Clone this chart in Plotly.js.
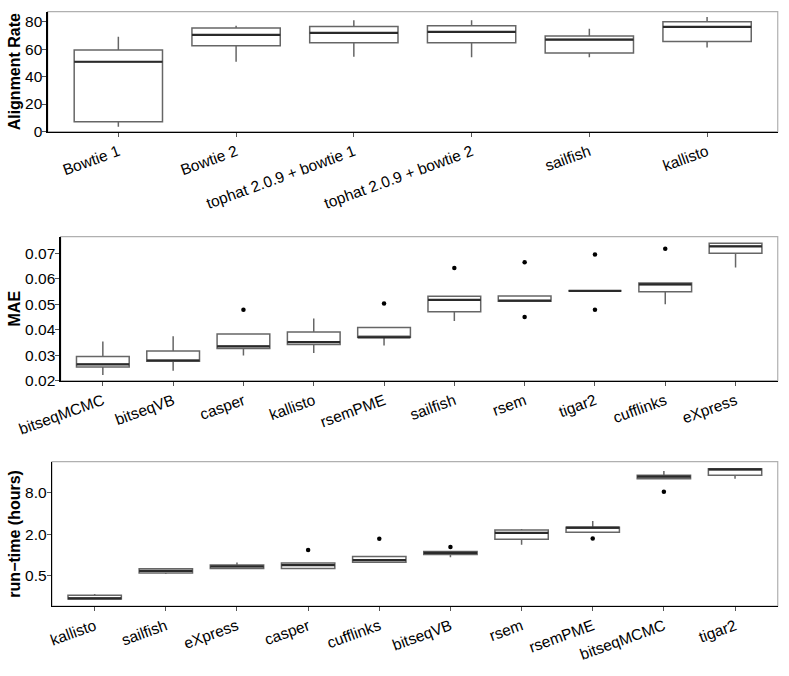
<!DOCTYPE html>
<html><head><meta charset="utf-8">
<script src="https://cdn.plot.ly/plotly-3.0.1.min.js"></script>
<style>body{margin:0;padding:0;background:#fff}#chart{width:789px;height:676px}</style>
</head><body><div id="chart"></div>
<script>
// Panel 1: alignment rate
const alignCats = ["Bowtie 1","Bowtie 2","tophat 2.0.9 + bowtie 1","tophat 2.0.9 + bowtie 2","sailfish","kallisto"];
const alignLo  = [3.5, 50.8, 54.4, 54.0, 54.0, 61.2];
const alignQ1  = [7.1, 62.4, 64.6, 64.6, 57.1, 65.6];
const alignMed = [50.8, 70.4, 71.9, 72.6, 67.0, 76.2];
const alignQ3  = [59.3, 75.5, 76.5, 77.0, 69.5, 79.9];
const alignHi  = [69.0, 77.0, 81.0, 81.0, 74.8, 83.5];

// Panel 2: MAE
const maeCats = ["bitseqMCMC","bitseqVB","casper","kallisto","rsemPME","sailfish","rsem","tigar2","cufflinks","eXpress"];
const maeLo  = [0.0222, 0.0239, 0.0299, 0.0309, 0.0338, 0.0434, 0.0512, 0.0553, 0.0500, 0.0645];
const maeQ1  = [0.0254, 0.0276, 0.0326, 0.0342, 0.0370, 0.0471, 0.0512, 0.0553, 0.0549, 0.0701];
const maeMed = [0.0264, 0.0279, 0.0335, 0.0351, 0.0370, 0.0517, 0.0514, 0.0553, 0.0578, 0.0728];
const maeQ3  = [0.0295, 0.0316, 0.0383, 0.0391, 0.0409, 0.0532, 0.0533, 0.0553, 0.0584, 0.0740];
const maeHi  = [0.0354, 0.0374, 0.0383, 0.0444, 0.0409, 0.0532, 0.0533, 0.0553, 0.0584, 0.0740];
const maeOutCat = ["casper","rsemPME","sailfish","rsem","rsem","tigar2","tigar2","cufflinks"];
const maeOutVal = [0.0479, 0.0503, 0.0643, 0.0665, 0.0450, 0.0696, 0.0479, 0.0718];

// Panel 3: run-time (hours)
const rtCats = ["kallisto","sailfish","eXpress","casper","cufflinks","bitseqVB","rsem","rsemPME","bitseqMCMC","tigar2"];
const rtLo  = [0.227, 0.524, 0.632, 0.632, 0.782, 0.924, 1.40, 2.13, 12.8, 12.8];
const rtQ1  = [0.227, 0.542, 0.632, 0.632, 0.782, 1.01, 1.69, 2.13, 12.8, 14.3];
const rtMed = [0.232, 0.585, 0.676, 0.708, 0.836, 1.068, 2.08, 2.49, 13.7, 17.5];
const rtQ3  = [0.257, 0.625, 0.708, 0.757, 0.944, 1.114, 2.30, 2.52, 14.3, 17.9];
const rtHi  = [0.268, 0.640, 0.773, 0.757, 0.944, 1.114, 2.38, 3.11, 16.6, 17.9];
const rtOutCat = ["casper","cufflinks","bitseqVB","rsemPME","bitseqMCMC"];
const rtOutVal = [1.17, 1.71, 1.30, 1.72, 8.28];

const FONT = "Liberation Sans, Arial, sans-serif";
const BOXLINE = "#666666";
const MEDLINE = "#2a2a2a";

function boxTraces(cats, lo, q1, med, q3, hi, xa, ya) {
  return [
    {type:"box", x:cats, lowerfence:lo, q1:q1, median:med, q3:q3, upperfence:hi,
     xaxis:xa, yaxis:ya, width:0.75, whiskerwidth:0, fillcolor:"#ffffff",
     line:{color:BOXLINE, width:1.5}, boxpoints:false, showlegend:false, hoverinfo:"skip"},
    {type:"box", x:cats, lowerfence:med, q1:med, median:med, q3:med, upperfence:med,
     xaxis:xa, yaxis:ya, width:0.75, whiskerwidth:0, fillcolor:"rgba(0,0,0,0)",
     line:{color:MEDLINE, width:2.2}, boxpoints:false, showlegend:false, hoverinfo:"skip"}
  ];
}
function outTrace(cats, vals, xa, ya) {
  return {type:"scatter", mode:"markers", x:cats, y:vals, xaxis:xa, yaxis:ya,
    marker:{color:"#000000", size:4.5}, showlegend:false, hoverinfo:"skip"};
}

const data = [
  ...boxTraces(alignCats, alignLo, alignQ1, alignMed, alignQ3, alignHi, "x", "y"),
  ...boxTraces(maeCats, maeLo, maeQ1, maeMed, maeQ3, maeHi, "x2", "y2"),
  outTrace(maeOutCat, maeOutVal, "x2", "y2"),
  ...boxTraces(rtCats, rtLo, rtQ1, rtMed, rtQ3, rtHi, "x3", "y3"),
  outTrace(rtOutCat, rtOutVal, "x3", "y3")
];

const W = 789, H = 676, ML = 45;
function xd(l, r) { return [(l - ML) / (W - ML), (r - ML) / (W - ML)]; }
function yd(top, bot) { return [(H - bot) / H, (H - top) / H]; }

const tickFont = {family:FONT, size:15.5, color:"#000"};
const titleFont = {family:FONT, size:16, color:"#000", weight:"bold"};

function xAxis(cats, dom, anchor) {
  return {domain:dom, anchor:anchor, type:"category", categoryorder:"array", categoryarray:cats,
    range:[-0.6, cats.length - 0.4], showline:true, linecolor:"#000", linewidth:1.3,
    ticks:"outside", ticklen:4, tickcolor:"#555", tickwidth:1, tickangle:-20,
    tickfont:tickFont, showgrid:false, zeroline:false, automargin:false, fixedrange:true};
}
function yAxis(dom, anchor, extra) {
  return Object.assign({domain:dom, anchor:anchor, showline:true, linecolor:"#000", linewidth:1.3,
    ticks:"outside", ticklen:4, tickcolor:"#555", tickwidth:1, tickfont:tickFont,
    ticklabelstandoff:-3,
    showgrid:false, zeroline:false, automargin:"left", fixedrange:true}, extra);
}

const layout = {
  width:W, height:H, margin:{l:ML, r:0, t:0, b:0},
  paper_bgcolor:"#fff", plot_bgcolor:"#fff", showlegend:false, boxmode:"overlay",
  font:{family:FONT, color:"#000"},
  xaxis: xAxis(alignCats, xd(45.7, 777.7), "y"),
  yaxis: yAxis(yd(11.7, 131.7), "x", {range:[-0.2, 87.3], tickvals:[0,20,40,60,80],
    title:{text:"Alignment Rate", font:titleFont, standoff:0}}),
  xaxis2: xAxis(maeCats, xd(58.7, 777.7), "y2"),
  yaxis2: yAxis(yd(236.7, 380.7), "x2", {range:[0.01997, 0.07657], tickvals:[0.02,0.03,0.04,0.05,0.06,0.07],
    tickformat:".2f", title:{text:"MAE", font:titleFont, standoff:0}}),
  xaxis3: xAxis(rtCats, xd(50, 777.7), "y3"),
  yaxis3: yAxis(yd(461.7, 606), "x3", {type:"log", range:[Math.log10(0.18), Math.log10(22.6)],
    tickvals:[0.5,2,8], ticktext:["0.5","2.0","8.0"],
    title:{text:"run\u2212time (hours)", font:titleFont, standoff:0}}),
  shapes: [["x","y"],["x2","y2"],["x3","y3"]].map(([xa,ya]) => ({
    type:"rect", xref:xa+" domain", yref:ya+" domain", x0:0, x1:1, y0:0, y1:1,
    line:{color:"#b0b0b0", width:1.2}, fillcolor:"rgba(0,0,0,0)", layer:"below"}))
};

Plotly.newPlot("chart", data, layout, {displayModeBar:false, staticPlot:true});
</script>
</body></html>
